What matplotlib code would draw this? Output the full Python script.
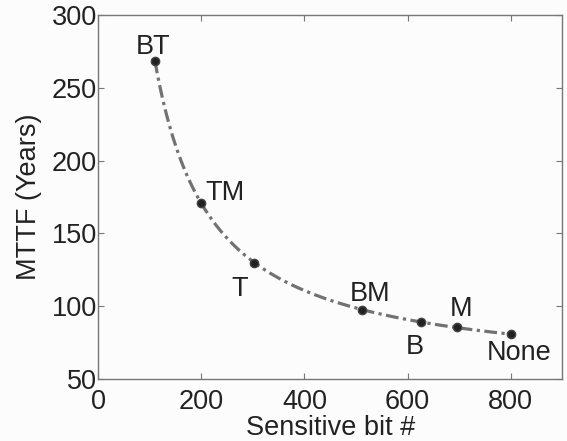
import numpy as np
import matplotlib
matplotlib.use("Agg")
import matplotlib.pyplot as plt

plt.rcParams['font.family'] = ['Liberation Sans', 'DejaVu Sans']

# data
configs = ['BT', 'TM', 'T', 'BM', 'B', 'M', 'None']
sensitive_bits = np.array([110, 200, 303, 512, 625, 695, 800])
mttf = np.array([268.5, 171, 129.5, 97.5, 89, 85.5, 80.5])
# label positions (data coords) for each config
label_x = [107, 245, 275, 527, 614, 703, 816]
label_y = [278, 177.5, 112, 108, 72, 98, 67.5]

# fitted curve y = a + c/x from the points
c, a = np.polyfit(1.0 / sensitive_bits, mttf, 1)
xs = np.linspace(sensitive_bits.min(), sensitive_bits.max(), 300)
ys = a + c / xs

fig = plt.figure(figsize=(5.67, 4.41), dpi=100)
fig.patch.set_facecolor('#fcfcfc')
ax = fig.add_axes([0.173, 0.141, 0.819, 0.825])
ax.set_facecolor('#fcfcfc')

line, = ax.plot(xs, ys, color='#727272', linewidth=2.3, zorder=2)
line.set_dashes([4, 1.4, 1, 1.4])
ax.plot(sensitive_bits, mttf, 'o', color='#222222', markersize=6,
        markeredgecolor='#444444', zorder=3)

for name, lx, ly in zip(configs, label_x, label_y):
    ax.text(lx, ly, name, fontsize=19.5, color='#222222', ha='center', va='center')

ax.set_xlim(0, 900)
ax.set_ylim(50, 300)
ax.set_xticks([0, 200, 400, 600, 800])
ax.set_yticks([50, 100, 150, 200, 250, 300])
ax.tick_params(direction='in', length=4, top=True, right=True, labelsize=19.5,
               colors='#777777', labelcolor='#222222', pad=1)
ax.tick_params(axis='x', pad=7.5)
for sp in ax.spines.values():
    sp.set_color('#777777')
    sp.set_linewidth(1.0)

ax.set_xlabel('Sensitive bit #', fontsize=19.5, color='#222222', labelpad=0)
ax.set_ylabel('MTTF (Years)', fontsize=19.5, color='#222222', labelpad=7)

fig.savefig('out.png', dpi=100, facecolor=fig.get_facecolor())
